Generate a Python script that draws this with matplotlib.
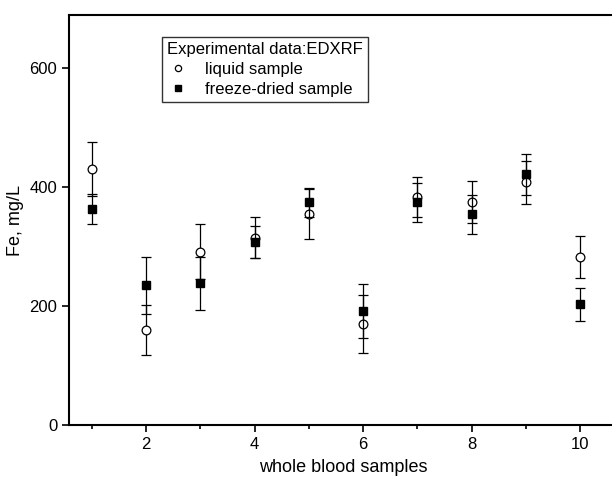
import matplotlib
matplotlib.use("Agg")
import matplotlib.pyplot as plt
from matplotlib.lines import Line2D

plt.rcParams["font.family"] = ["Liberation Sans", "DejaVu Sans"]

# Данные
samples = [1, 2, 3, 4, 5, 6, 7, 8, 9, 10]
liquid = [430, 160, 291, 315, 355, 170, 383, 375, 408, 282]
liquid_err = [45, 42, 46, 35, 42, 49, 34, 35, 36, 35]
freeze_dried = [363, 235, 238, 307, 374, 192, 374, 354, 421, 203]
freeze_dried_err = [26, 48, 44, 27, 25, 45, 33, 33, 34, 28]

fig = plt.figure(figsize=(6.12, 4.83), dpi=100)
W, H = 612, 483
ax = fig.add_axes([69 / W, (H - 425) / H, (618 - 69) / W, 410 / H])

ax.errorbar(samples, liquid, yerr=liquid_err, fmt="o", mfc="white", mec="black",
            ms=6.3, mew=0.9, ecolor="black", elinewidth=0.9, capsize=3.3, capthick=0.9,
            zorder=3)
ax.errorbar(samples, freeze_dried, yerr=freeze_dried_err, fmt="s", mfc="black", mec="black",
            ms=5.8, ecolor="black", elinewidth=0.9, capsize=3.3, capthick=0.9, zorder=4)

ax.set_xlim(0.576, 10.7)
ax.set_ylim(0, 689)
ax.set_xticks([2, 4, 6, 8, 10])
ax.set_xticks([1, 3, 5, 7, 9], minor=True)
ax.set_yticks([0, 200, 400, 600])
ax.tick_params(axis="both", which="major", direction="out", length=5, width=1.2, labelsize=12)
ax.tick_params(axis="x", which="minor", direction="out", length=3, width=1.2)
for side in ["left", "bottom", "top"]:
    ax.spines[side].set_linewidth(1.5)
ax.spines["right"].set_visible(False)

ax.set_xlabel("whole blood samples", fontsize=13, labelpad=5)
ax.set_ylabel("Fe, mg/L", fontsize=13)

handles = [
    Line2D([], [], marker="o", ls="none", mfc="white", mec="black", ms=4.5, mew=0.9),
    Line2D([], [], marker="s", ls="none", mfc="black", mec="black", ms=4.6),
]
leg = ax.legend(handles, ["liquid sample", "freeze-dried sample"],
                title="Experimental data:EDXRF", loc="upper left",
                bbox_to_anchor=((162 - 69) / 549, (425 - 37) / 410),
                fontsize=12, title_fontsize=12, fancybox=False, framealpha=1,
                edgecolor="#333333", borderpad=0.3, handletextpad=1.0,
                labelspacing=0.3, handlelength=1.3, borderaxespad=0)
leg._legend_box.align = "left"
leg.get_frame().set_linewidth(1.0)

fig.savefig("out.png", dpi=100)
